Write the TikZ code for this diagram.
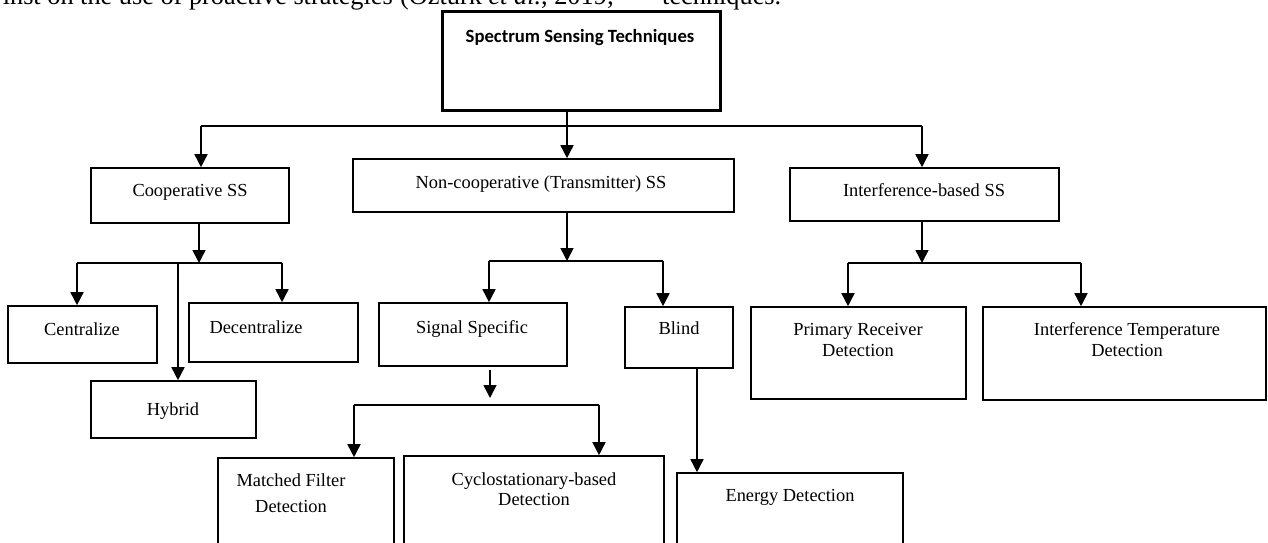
\documentclass[tikz,border=0pt]{standalone}
\usepackage{fontspec}
\setmainfont{Liberation Serif}
\newfontfamily\carl{Carlito}
\usetikzlibrary{arrows.meta,calc}
\begin{document}
\begin{tikzpicture}[x=1pt,y=-1pt,
  box/.style={draw, line width=1.6pt, inner sep=0pt, rectangle},
  txt/.style={inner sep=0pt, anchor=base, font=\fontsize{18.4}{21}\selectfont},
  para/.style={inner sep=0pt, font=\fontsize{26.3}{30}\selectfont},
  ln/.style={line width=1.6pt},
  arr/.style={line width=1.6pt, -{Triangle[width=13pt,length=13pt]}}]
\useasboundingbox (0,0) rectangle (1268,543);
\clip (0,0) rectangle (1268,543);
\fill[white] (0,0) rectangle (1268,543);

% cut-off paragraph line at the top
\node[para, anchor=base east] (p1) at (393,5) {inst on the use of proactive strategies};
\node[para, anchor=base west] (p2) at (400,5) {(Öztürk \textit{et al.}, 2019;};
\node[para, anchor=base west] (p3) at (662,5) {techniques.};

% boxes
\node[box, line width=3pt, minimum width=278pt, minimum height=98pt] (top) at (581,61) {};
\node[box, minimum width=198pt, minimum height=55pt] (coop) at (190,195.5) {};
\node[box, minimum width=381pt, minimum height=53pt] (noncoop) at (543.5,185.5) {};
\node[box, minimum width=269pt, minimum height=53pt] (interf) at (924.5,194.5) {};
\node[box, minimum width=149pt, minimum height=57pt] (central) at (82.5,334.5) {};
\node[box, minimum width=169pt, minimum height=59pt] (decentral) at (273.5,332.5) {};
\node[box, minimum width=165pt, minimum height=57pt] (hybrid) at (173.5,409.5) {};
\node[box, minimum width=188pt, minimum height=63pt] (sigspec) at (473,334.5) {};
\node[box, minimum width=108pt, minimum height=61pt] (blind) at (679,337.5) {};
\node[box, minimum width=215pt, minimum height=92pt] (primrec) at (858.5,353) {};
\node[box, minimum width=283pt, minimum height=93pt] (intemp) at (1124.5,353.5) {};
\node[box, minimum width=176pt, minimum height=102pt] (matched) at (306,509) {};
\node[box, minimum width=260pt, minimum height=104pt] (cyclo) at (534,508) {};
\node[box, minimum width=226pt, minimum height=87pt] (energy) at (790,516.5) {};

% texts
\node[inner sep=0pt, anchor=base, font=\carl\bfseries\fontsize{18.7}{22}\selectfont] (ttop) at (580,42) {Spectrum Sensing Techniques};
\node[txt] (tcoop) at (190,196) {Cooperative SS};
\node[txt] (tnoncoop) at (541,188) {Non-cooperative (Transmitter) SS};
\node[txt] (tinterf) at (924,196) {Interference-based SS};
\node[txt] (tcentral) at (82,335) {Centralize};
\node[txt] (tdecentral) at (256,333) {Decentralize};
\node[txt] (thybrid) at (173,415) {Hybrid};
\node[txt] (tsigspec) at (472,333) {Signal Specific};
\node[txt] (tblind) at (679,334) {Blind};
\node[txt] (tprim1) at (858,335) {Primary Receiver};
\node[txt] (tprim2) at (858,356) {Detection};
\node[txt] (tint1) at (1127,335) {Interference Temperature};
\node[txt] (tint2) at (1127,356) {Detection};
\node[txt] (tmat1) at (291,486) {Matched Filter};
\node[txt] (tmat2) at (291,512) {Detection};
\node[txt] (tcyc1) at (534,485) {Cyclostationary-based};
\node[txt] (tcyc2) at (534,505) {Detection};
\node[txt] (tener) at (790,501) {Energy Detection};

% level 1
\coordinate (a0) at (567,126);
\coordinate (a1) at (201,126);
\coordinate (a2) at (922,126);
\draw[ln] (top.south -| a0) -- (a0);
\draw[ln] (a1) -- (a2);
\draw[arr] (a1) -- (a1 |- coop.north);
\draw[arr] (a0) -- (a0 |- noncoop.north);
\draw[arr] (a2) -- (a2 |- interf.north);

% cooperative
\coordinate (b0) at (199,263);
\coordinate (b1) at (77,263);
\coordinate (b2) at (282,263);
\coordinate (b3) at (178,263);
\draw[arr] (coop.south -| b0) -- (b0);
\draw[ln] (b1) -- (b2);
\draw[arr] (b1) -- (b1 |- central.north);
\draw[arr] (b2) -- (b2 |- decentral.north);
\draw[arr] (b3) -- (b3 |- hybrid.north);

% non-cooperative
\coordinate (c0) at (567,261);
\coordinate (c1) at (489,261);
\coordinate (c2) at (663,261);
\draw[arr] (noncoop.south -| c0) -- (c0);
\draw[ln] (c1) -- (c2);
\draw[arr] (c1) -- (c1 |- sigspec.north);
\draw[arr] (c2) -- (c2 |- blind.north);

% signal specific
\coordinate (d0) at (490,398);
\coordinate (d1) at (354,405);
\coordinate (d2) at (599,405);
\draw[arr] ($(sigspec.south -| d0)+(0,3)$) -- (d0);
\draw[ln] (d1) -- (d2);
\draw[arr] (d1) -- (d1 |- matched.north);
\draw[arr] (d2) -- (d2 |- cyclo.north);

% blind
\coordinate (e0) at (697,368);
\draw[arr] (blind.south -| e0) -- (e0 |- energy.north);

% interference-based
\coordinate (f0) at (922,263);
\coordinate (f1) at (848,263);
\coordinate (f2) at (1081,263);
\draw[arr] (interf.south -| f0) -- (f0);
\draw[ln] (f1) -- (f2);
\draw[arr] (f1) -- (f1 |- primrec.north);
\draw[arr] (f2) -- (f2 |- intemp.north);
\end{tikzpicture}
\end{document}
